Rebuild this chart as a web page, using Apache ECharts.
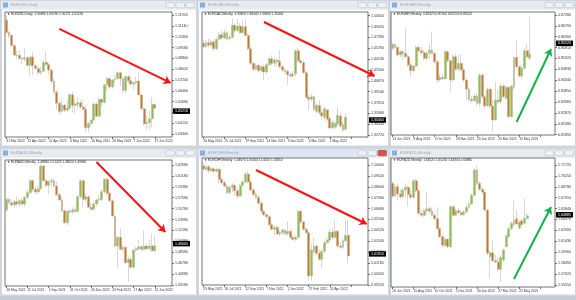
<!DOCTYPE html>
<html><head><meta charset="utf-8">
<script src="https://cdn.jsdelivr.net/npm/echarts@6/dist/echarts.min.js"></script>
<style>html,body{margin:0;padding:0;background:#d5dae1;}#c{width:576px;height:300px;}</style>
</head><body><div id="c"></div>
<script>
// ---------- DATA (candles are [open, close, low, high]) ----------
const tlCandles = [
[1.1157,1.1067,1.1067,1.1185],[1.1067,1.1046,1.1027,1.1076],[1.1046,1.0972,1.0966,1.1053],[1.0972,1.0904,1.0900,1.0988],
[1.0904,1.0902,1.0873,1.0937],[1.0902,1.0879,1.0870,1.0935],[1.0879,1.0876,1.0836,1.0893],[1.0876,1.0884,1.0858,1.0950],
[1.0884,1.0829,1.0821,1.0900],[1.0829,1.0890,1.0757,1.0896],[1.0890,1.0827,1.0758,1.0924],[1.0827,1.0808,1.0800,1.0840],
[1.0808,1.0779,1.0760,1.0815],[1.0779,1.0787,1.0757,1.0817],[1.0787,1.0852,1.0785,1.0867],[1.0852,1.0836,1.0825,1.0936],
[1.0836,1.0796,1.0764,1.0849],[1.0796,1.0715,1.0697,1.0808],[1.0715,1.0637,1.0635,1.0731],[1.0637,1.0557,1.0514,1.0654],
[1.0557,1.0497,1.0471,1.0571],[1.0497,1.0545,1.0490,1.0593],[1.0545,1.0507,1.0491,1.0553],[1.0507,1.0523,1.0492,1.0579],
[1.0523,1.0618,1.0505,1.0630],[1.0618,1.0541,1.0494,1.0642],[1.0541,1.0550,1.0484,1.0592],[1.0550,1.0561,1.0516,1.0599],
[1.0561,1.0530,1.0512,1.0578],[1.0530,1.0513,1.0502,1.0578],[1.0513,1.0380,1.0354,1.0537],[1.0380,1.0412,1.0350,1.0424],
[1.0412,1.0436,1.0389,1.0440],[1.0436,1.0552,1.0427,1.0561],[1.0552,1.0464,1.0458,1.0565],[1.0464,1.0585,1.0462,1.0605],
[1.0585,1.0562,1.0532,1.0597],[1.0562,1.0690,1.0556,1.0697],[1.0690,1.0735,1.0642,1.0749],[1.0735,1.0674,1.0660,1.0737],
[1.0674,1.0725,1.0661,1.0733],[1.0725,1.0733,1.0700,1.0765],[1.0733,1.0777,1.0730,1.0787],[1.0777,1.0733,1.0684,1.0780],
[1.0733,1.0648,1.0627,1.0738],[1.0648,1.0749,1.0627,1.0753],[1.0749,1.0719,1.0699,1.0764],[1.0719,1.0695,1.0680,1.0751],
[1.0695,1.0707,1.0653,1.0712],[1.0707,1.0716,1.0690,1.0748],[1.0716,1.0617,1.0612,1.0774],[1.0617,1.0518,1.0506,1.0630],
[1.0518,1.0409,1.0397,1.0524],[1.0409,1.0416,1.0365,1.0474],[1.0416,1.0446,1.0359,1.0505],[1.0446,1.0549,1.0382,1.0601],
[1.05480,1.05216,1.05171,1.05590]
];
const tlXLabels = ['31 Mar 2022','12 Apr 2022','22 Apr 2022','4 May 2022','16 May 2022','26 May 2022','7 Jun 2022','17 Jun 2022'];
const tlYTicks = [1.11920,1.11140,1.10360,1.09580,1.08800,1.08020,1.07240,1.06460,1.05680,1.04900,1.04120,1.03340];
const tlYRange = [1.0314, 1.1214];
const tlArrow = [[20, 1.1092], [62, 1.0703]];

const tmCandles = [
[1.4650,1.4600,1.4575,1.4690],[1.4600,1.4660,1.4585,1.4700],[1.4660,1.4620,1.4595,1.4720],[1.4620,1.4670,1.4600,1.4710],
[1.4670,1.4570,1.4540,1.4700],[1.4570,1.4710,1.4550,1.4740],[1.4710,1.4780,1.4690,1.4820],[1.4780,1.4730,1.4710,1.4840],
[1.4730,1.4810,1.4715,1.4860],[1.4810,1.4720,1.4700,1.4840],[1.4720,1.4740,1.4690,1.4780],[1.4740,1.4920,1.4720,1.5025],
[1.4920,1.4840,1.4810,1.4950],[1.4840,1.4910,1.4820,1.5020],[1.4910,1.4810,1.4790,1.4960],[1.4810,1.4900,1.4790,1.4990],
[1.4900,1.4770,1.4750,1.5010],[1.4770,1.4570,1.4550,1.4800],[1.4570,1.4350,1.4320,1.4600],[1.4350,1.4260,1.4230,1.4380],
[1.4260,1.4320,1.4240,1.4350],[1.4320,1.4240,1.4210,1.4350],[1.4240,1.4300,1.4220,1.4320],[1.4300,1.4220,1.4100,1.4330],
[1.4220,1.4330,1.4190,1.4360],[1.4330,1.4420,1.4310,1.4450],[1.4420,1.4350,1.4320,1.4470],[1.4350,1.4400,1.4300,1.4430],
[1.4400,1.4380,1.4310,1.4440],[1.4380,1.4300,1.4275,1.4550],[1.4300,1.4250,1.4220,1.4320],[1.4250,1.4230,1.4190,1.4280],
[1.4230,1.4180,1.4025,1.4260],[1.4180,1.4160,1.4140,1.4220],[1.4160,1.4190,1.4130,1.4230],[1.4190,1.4540,1.4160,1.4560],
[1.4540,1.4390,1.4360,1.4570],[1.4390,1.4360,1.4340,1.4420],[1.4360,1.4210,1.4190,1.4390],[1.4210,1.3840,1.3820,1.4240],
[1.3840,1.3810,1.3650,1.3880],[1.3810,1.3850,1.3780,1.3890],[1.3850,1.3660,1.3640,1.3870],[1.3630,1.3720,1.3600,1.3750],
[1.3720,1.3610,1.3580,1.3800],[1.3610,1.3560,1.3520,1.3670],[1.3540,1.3670,1.3510,1.3700],[1.3650,1.3510,1.3470,1.3680],
[1.3520,1.3380,1.3360,1.3550],[1.3380,1.3460,1.3360,1.3500],[1.3390,1.3450,1.3360,1.3490],[1.3440,1.3570,1.3410,1.3700],
[1.3560,1.3410,1.3380,1.3600],[1.3430,1.3350,1.3320,1.3480],[1.3360,1.3540,1.3340,1.3600]
];
const tmXLabels = ['30 May 2021','25 Jul 2021','19 Sep 2021','14 Nov 2021','9 Jan 2022','6 Mar 2022','1 May 2022'];
const tmYTicks = [1.50650,1.49020,1.47390,1.45760,1.44130,1.42500,1.40870,1.39240,1.37610,1.35980,1.34350,1.32720];
const tmYRange = [1.3245, 1.5120];
const tmArrow = [[23, 1.4970], [65, 1.4160]];

const trCandles = [
[0.85775,0.85955,0.85700,0.86030],[0.85955,0.85820,0.85730,0.86000],[0.85820,0.85475,0.85400,0.85880],[0.85475,0.85625,0.85370,0.85700],
[0.85625,0.85550,0.85250,0.85700],[0.85550,0.85400,0.85325,0.86675],[0.85400,0.85025,0.84950,0.85475],[0.85025,0.84770,0.84500,0.85100],
[0.84770,0.84980,0.84680,0.85025],[0.84980,0.85820,0.84920,0.85880],[0.85820,0.85670,0.85580,0.85880],[0.85670,0.85580,0.85475,0.85850],
[0.85580,0.85325,0.85250,0.85700],[0.85325,0.85550,0.85220,0.85625],[0.85550,0.85700,0.85280,0.86000],[0.85700,0.85550,0.85475,0.86525],
[0.85550,0.85175,0.85100,0.85625],[0.85175,0.84350,0.84200,0.85250],[0.84350,0.84470,0.84275,0.84650],[0.84470,0.84410,0.84350,0.84620],
[0.84410,0.85625,0.84350,0.85700],[0.85625,0.85220,0.85175,0.85700],[0.85220,0.84350,0.83825,0.85280],[0.84350,0.85400,0.84275,0.85475],
[0.85400,0.84830,0.84770,0.85550],[0.84830,0.85100,0.84770,0.85475],[0.85100,0.84800,0.84725,0.85475],[0.84800,0.84350,0.84275,0.84950],
[0.84350,0.83930,0.83450,0.84425],[0.83930,0.83480,0.83375,0.84020],[0.83480,0.83420,0.83300,0.83630],[0.83420,0.83630,0.83360,0.83720],
[0.83630,0.83300,0.83180,0.83750],[0.83300,0.84575,0.83120,0.84650],[0.84575,0.83600,0.83525,0.84650],[0.83600,0.83180,0.83075,0.83675],
[0.83180,0.83930,0.83150,0.84020],[0.83930,0.83180,0.83075,0.83975],[0.83180,0.82550,0.82025,0.83450],[0.82550,0.83450,0.82520,0.84275],
[0.83450,0.83375,0.83270,0.83900],[0.83375,0.84080,0.83270,0.84200],[0.84080,0.83600,0.83525,0.84200],[0.83525,0.84020,0.83450,0.84125],
[0.84020,0.82700,0.82625,0.84080],[0.82700,0.84080,0.82625,0.84125],[0.84020,0.85370,0.83930,0.85400],[0.85370,0.84950,0.84875,0.86150],
[0.84950,0.84530,0.84470,0.85025],[0.84530,0.84875,0.84425,0.85025],[0.84875,0.85670,0.84800,0.85775],[0.85670,0.85400,0.85325,0.86000],
[0.85325,0.85520,0.85250,0.87200]
];
const trXLabels = ['13 Jun 2021','8 Aug 2021','3 Oct 2021','28 Nov 2021','23 Jan 2022','20 Mar 2022','15 May 2022'];
const trYTicks = [0.87280,0.86790,0.86300,0.85810,0.85320,0.84830,0.84340,0.83850,0.83360,0.82870,0.82380,0.81890];
const trYRange = [0.81875, 0.87410];
const trArrow = [[47, 0.8246], [60, 0.85745]];

const blCandles = [
[1.5555,1.5731,1.5522,1.5764],[1.5731,1.5676,1.5654,1.57475],[1.5676,1.56375,1.5610,1.5731],[1.56375,1.56925,1.5599,1.5720],
[1.56925,1.5654,1.5621,1.5775],[1.5654,1.5709,1.5610,1.5742],[1.5709,1.5654,1.5621,1.5764],[1.5654,1.5764,1.5610,1.5786],
[1.5764,1.5841,1.5731,1.5885],[1.5841,1.6039,1.5819,1.6061],[1.6039,1.5896,1.58575,1.6061],[1.5896,1.5852,1.5819,1.5940],
[1.5852,1.5907,1.5819,1.5951],[1.5907,1.6281,1.5885,1.6314],[1.6281,1.6039,1.6017,1.62975],[1.6039,1.5962,1.5929,1.6061],
[1.5962,1.6017,1.5819,1.6061],[1.6017,1.6039,1.5940,1.60775],[1.6039,1.5951,1.5929,1.6072],[1.5951,1.5808,1.5786,1.60225],
[1.5808,1.5720,1.5698,1.5841],[1.5720,1.5544,1.5522,1.5775],[1.5544,1.5346,1.5324,1.5566],[1.5346,1.5533,1.5302,1.5555],
[1.5533,1.5522,1.5500,1.5577],[1.5522,1.5555,1.5500,1.5599],[1.5555,1.5533,1.5511,1.5599],[1.5533,1.5775,1.5511,1.58025],
[1.5775,1.6039,1.5742,1.6061],[1.6039,1.5731,1.5599,1.6061],[1.5731,1.5775,1.5676,1.5830],[1.5775,1.5599,1.5577,1.5797],
[1.5599,1.5566,1.5544,1.5665],[1.5566,1.5654,1.5544,1.56925],[1.5654,1.5720,1.5610,1.57475],[1.5720,1.5731,1.5665,1.5797],
[1.5731,1.58575,1.5698,1.5896],[1.58575,1.6061,1.5819,1.6083],[1.6061,1.5830,1.5797,1.6083],[1.5830,1.5709,1.5676,1.5852],
[1.5709,1.5456,1.5445,1.5731],[1.5456,1.4961,1.4939,1.54725],[1.4961,1.5104,1.45925,1.5126],[1.5104,1.4906,1.4884,1.52525],
[1.4906,1.4939,1.48675,1.49775],[1.4939,1.4686,1.4664,1.4961],[1.4686,1.4741,1.43725,1.4785],[1.4741,1.4609,1.4576,1.4774],
[1.4609,1.4895,1.4587,1.4917],[1.4895,1.4917,1.4862,1.4950],[1.4917,1.4950,1.4884,1.5060],[1.4950,1.4906,1.4873,1.4983],
[1.4906,1.4961,1.4884,1.5225],[1.4961,1.4917,1.4895,1.4994],[1.4917,1.4961,1.4895,1.5060],[1.4961,1.4884,1.48675,1.5170],
[1.4884,1.49665,1.4862,1.51425]
];
const blXLabels = ['16 May 2021','11 Jul 2021','5 Sep 2021','31 Oct 2021','26 Dec 2021','20 Feb 2022','17 Apr 2022','12 Jun 2022'];
const blYTicks = [1.62980,1.61180,1.59380,1.57580,1.55780,1.53980,1.52180,1.50380,1.48580,1.46780,1.44980,1.43180];
const blYRange = [1.4301, 1.6380];
const blArrow = [[34, 1.6347], [60, 1.5192]];

const bmCandles = [
[1.0991,1.0961,1.0949,1.1015],[1.0961,1.0985,1.0949,1.1000],[1.0985,1.0949,1.0925,1.1000],[1.0949,1.0967,1.0937,1.0985],
[1.0967,1.0943,1.0925,1.0979],[1.0943,1.0961,1.0931,1.0979],[1.0961,1.0871,1.0835,1.0973],[1.0871,1.0841,1.0823,1.0883],
[1.0841,1.0811,1.0799,1.0859],[1.0811,1.0751,1.0739,1.0829],[1.0751,1.0799,1.0739,1.0811],[1.0799,1.0817,1.0757,1.0835],
[1.0817,1.0769,1.0727,1.0835],[1.0769,1.0721,1.0697,1.0793],[1.0721,1.0817,1.0709,1.0829],[1.0817,1.0847,1.0805,1.0871],
[1.0847,1.0919,1.0835,1.0937],[1.0919,1.0847,1.0835,1.0949],[1.0847,1.0775,1.0763,1.0865],[1.0775,1.0733,1.0721,1.0793],
[1.0733,1.0709,1.0697,1.0757],[1.0709,1.0655,1.0643,1.0727],[1.0655,1.0583,1.0571,1.0673],[1.0583,1.0553,1.0541,1.0601],
[1.0553,1.0535,1.0517,1.0571],[1.0535,1.0463,1.0451,1.0547],[1.0463,1.0421,1.0409,1.0481],[1.0421,1.0439,1.0367,1.0457],
[1.0439,1.0379,1.0367,1.0451],[1.0379,1.0391,1.0361,1.0415],[1.0391,1.0415,1.0373,1.0427],[1.0415,1.0379,1.0367,1.0427],
[1.0379,1.0403,1.0367,1.0493],[1.0403,1.0349,1.0331,1.0421],[1.0349,1.0331,1.0319,1.0367],[1.0331,1.0349,1.0313,1.0367],
[1.0349,1.0583,1.0337,1.0595],[1.0583,1.0487,1.0469,1.0601],[1.0487,1.0421,1.0409,1.0499],[1.0421,1.0391,1.0379,1.0439],
[1.0391,1.0001,0.9959,1.0403],[1.0001,1.0235,0.9959,1.0295],[1.0217,1.0271,1.0199,1.0349],[1.0271,1.0205,1.0187,1.0283],
[1.0205,1.0151,1.0139,1.0235],[1.0151,1.0223,1.0067,1.0241],[1.0223,1.0301,1.0211,1.0319],[1.0301,1.0325,1.0283,1.0343],
[1.0325,1.0397,1.0313,1.0427],[1.0397,1.0349,1.0331,1.0427],[1.0349,1.0403,1.0337,1.0505],[1.0403,1.0271,1.0253,1.0415],
[1.0271,1.0259,1.0247,1.0301],[1.0259,1.0319,1.0247,1.0337],[1.0319,1.0367,1.0307,1.0505],[1.0367,1.0181,1.0115,1.0505]
];
const bmXLabels = ['23 May 2021','18 Jul 2021','12 Sep 2021','7 Nov 2021','2 Jan 2022','27 Feb 2022','24 Apr 2022'];
const bmYTicks = [1.10000,1.09020,1.08040,1.07060,1.06080,1.05100,1.04120,1.03140,1.02160,1.01180,1.00200,0.99220];
const bmYRange = [0.9920, 1.1063];
const bmArrow = [[20, 1.0955], [62, 1.0469]];

const brCandles = [
[1.6925,1.6754,1.67225,1.69475],[1.6754,1.6880,1.6736,1.6916],[1.6880,1.6781,1.6700,1.6925],[1.6781,1.6745,1.6718,1.6844],
[1.6745,1.6835,1.6727,1.6871],[1.6835,1.6871,1.6736,1.6925],[1.6871,1.6772,1.6610,1.6898],[1.6772,1.6736,1.6709,1.6844],
[1.6736,1.6961,1.6718,1.6979],[1.6961,1.6826,1.6808,1.6988],[1.6826,1.6520,1.6493,1.6853],[1.6520,1.6493,1.6475,1.6565],
[1.6493,1.6556,1.6466,1.6583],[1.6556,1.6583,1.6529,1.68125],[1.6583,1.6547,1.6520,1.6610],[1.6547,1.6493,1.6475,1.6601],
[1.6493,1.6448,1.6421,1.6529],[1.6448,1.6313,1.6295,1.6601],[1.6313,1.6205,1.6187,1.6340],[1.6205,1.6088,1.6070,1.6241],
[1.6088,1.6169,1.6061,1.6196],[1.6169,1.6070,1.6052,1.6187],[1.6070,1.6610,1.6043,1.66325],[1.6610,1.6493,1.6475,1.6628],
[1.6493,1.6556,1.6484,1.6583],[1.6556,1.6529,1.6502,1.6583],[1.6529,1.6502,1.6484,1.6565],[1.6502,1.6538,1.6484,1.6565],
[1.6538,1.6601,1.6520,1.6646],[1.6601,1.6646,1.6583,1.6682],[1.6646,1.6763,1.6628,1.6790],[1.6763,1.7105,1.6745,1.71275],
[1.7105,1.6925,1.6907,1.71725],[1.6925,1.6844,1.6826,1.6952],[1.6844,1.6808,1.6781,1.6889],[1.6808,1.6565,1.65425,1.6835],
[1.6565,1.5980,1.5953,1.6583],[1.5935,1.5989,1.56425,1.6025],[1.5989,1.5881,1.5863,1.6160],[1.5881,1.5863,1.5845,1.5962],
[1.5863,1.5764,1.5746,1.5935],[1.5764,1.5926,1.55975,1.5953],[1.5890,1.6025,1.5863,1.6043],[1.6070,1.6214,1.6061,1.6241],
[1.6205,1.6313,1.6187,1.6340],[1.6313,1.6385,1.6295,1.6412],[1.6367,1.6430,1.6340,1.6700],[1.6448,1.6376,1.6358,1.6565],
[1.6322,1.6403,1.6304,1.6430],[1.6421,1.6367,1.6349,1.6448],[1.6385,1.64525,1.6367,1.67225],[1.64525,1.64885,1.6430,1.6520]
];
const brXLabels = ['20 Jun 2021','15 Aug 2021','10 Oct 2021','5 Dec 2021','30 Jan 2022','27 Mar 2022','22 May 2022'];
const brYTicks = [1.71720,1.70250,1.68780,1.67310,1.65840,1.64370,1.62900,1.61430,1.59960,1.58490,1.57020,1.55550];
const brYRange = [1.55255, 1.7267];
const brArrow = [[46, 1.5634], [60, 1.6606]];

// ---------- LAYOUT / STYLE ----------
const FONT = 'Liberation Sans, DejaVu Sans, sans-serif';
const RED = '#ff1010', GREEN = '#12b24a';
const panels = [
 {title:'EURUSD,Daily',  c:tlCandles, xl:tlXLabels, yt:tlYTicks, yr:tlYRange, ar:tlArrow, ac:RED,   slots:63, win:[0,0,197,147],   grid:[5,12,167,125]},
 {title:'EURCAD,Weekly', c:tmCandles, xl:tmXLabels, yt:tmYTicks, yr:tmYRange, ar:tmArrow, ac:RED,   slots:63, win:[197,0,192,147], grid:[202,12,166,125]},
 {title:'EURGBP,Weekly', c:trCandles, xl:trXLabels, yt:trYTicks, yr:trYRange, ar:trArrow, ac:GREEN, slots:62, win:[389,0,187,147], grid:[391,12,164,123]},
 {title:'EURAUD,Weekly', c:blCandles, xl:blXLabels, yt:blYTicks, yr:blYRange, ar:blArrow, ac:RED,   slots:63, win:[0,148,197,148], grid:[5,160,167,126]},
 {title:'EURCHF,Weekly', c:bmCandles, xl:bmXLabels, yt:bmYTicks, yr:bmYRange, ar:bmArrow, ac:RED,   slots:63, win:[197,148,192,148], grid:[202,158,166,127], active:true},
 {title:'EURNZD,Weekly', c:brCandles, xl:brXLabels, yt:brYTicks, yr:brYRange, ar:brArrow, ac:GREEN, slots:62, win:[389,148,187,148], grid:[391,158,164,129]}
];

const grids=[], xAxes=[], yAxes=[], series=[], graphics=[];
panels.forEach((p,k)=>{
  const [gx,gy,gw,gh]=p.grid, [wx,wy,ww,wh]=p.win;
  grids.push({left:gx, top:gy, width:gw, height:gh, show:true, backgroundColor:'#ffffff', borderColor:'#505050', borderWidth:0.8, z:0});
  const cats=[]; for(let i=0;i<p.slots;i++){ cats.push(i%8===0 && p.xl[i/8] ? p.xl[i/8] : ''); }
  xAxes.push({type:'category', gridIndex:k, data:cats, boundaryGap:true,
    axisLine:{show:false}, splitLine:{show:false},
    axisTick:{show:true, interval:7, alignWithLabel:true, length:2, lineStyle:{color:'#505050', width:0.8}},
    axisLabel:{interval:7, fontSize:3.3, color:'#333', margin:2.5, align:'left', fontFamily:FONT}});
  yAxes.push({type:'value', gridIndex:k, position:'right', min:p.yr[0], max:p.yr[1],
    splitLine:{show:false}, axisLine:{show:false},
    axisTick:{show:true, length:2, customValues:p.yt, lineStyle:{color:'#505050', width:0.8}},
    axisLabel:{customValues:p.yt, fontSize:3.6, color:'#333', margin:3, fontFamily:FONT, formatter:v=>v.toFixed(5)}});
  const last=p.c[p.c.length-1];
  series.push({type:'candlestick', xAxisIndex:k, yAxisIndex:k, data:p.c, barWidth:2.4,
    itemStyle:{color:'#8cc63f', color0:'#d0761a', borderColor:'#b0b0b0', borderColor0:'#b0b0b0', borderWidth:0.5},
    markLine:{silent:true, symbol:['none','none'], animation:false,
      data:[{yAxis:last[1], lineStyle:{color:'rgba(0,0,0,0)', width:0},
        label:{show:true, position:'end', distance:1, formatter:()=>last[1].toFixed(5), backgroundColor:'#000', color:'#fff', fontSize:3.6, padding:[1,2,0.5,2], fontFamily:FONT}}]}});
  series.push({type:'lines', coordinateSystem:'cartesian2d', xAxisIndex:k, yAxisIndex:k, clip:false, silent:true, z:5,
    symbol:['none','arrow'], symbolSize:[0,7], lineStyle:{color:p.ac, width:2, opacity:1, curveness:0},
    data:[{coords:p.ar}]});
  // window chrome
  graphics.push({type:'rect', z:-10, shape:{x:wx,y:wy,width:ww,height:wh}, style:{fill:'#cfd5dd'}});
  graphics.push({type:'rect', z:-9, shape:{x:wx+1,y:wy+1,width:ww-2,height:8.5}, style:{fill:p.active?'#dde6f2':'#e7ebf0'}});
  graphics.push({type:'rect', z:-9, shape:{x:wx+2,y:wy+9.5,width:ww-3,height:wh-11}, style:{fill:'#ffffff'}});
  graphics.push({type:'rect', z:-8, shape:{x:wx+3,y:wy+2.5,width:5,height:5}, style:{fill:'#86aede'}});
  graphics.push({type:'text', z:-8, x:wx+11, y:wy+5.3, style:{text:p.title, fontSize:4, fill:'#9ba5b1', verticalAlign:'middle', fontFamily:FONT}});
  for(let b=0;b<3;b++){
    const red = p.active && b===2;
    graphics.push({type:'rect', z:-8, shape:{x:wx+ww-31+b*10,y:wy+2.3,width:8.5,height:5.5,r:1},
      style:{fill:red?'#d9534f':'#eef1f5', stroke:red?'#b03a36':'#b5bdc8', lineWidth:0.6}});
  }
  const hdr='\u25BC '+p.title+'  '+[last[0],last[3],last[2],last[1]].map(v=>v.toFixed(5)).join(' ');
  graphics.push({type:'text', z:10, x:gx+2, y:gy+2.6, style:{text:hdr, fontSize:3.2, fill:'#222', verticalAlign:'middle', fontFamily:FONT}});
});
graphics.push({type:'rect', z:-10, shape:{x:0,y:296,width:576,height:4}, style:{fill:'#c3ccd7'}});

const chart = echarts.init(document.getElementById('c'), null, {renderer:'canvas'});
chart.setOption({animation:false, backgroundColor:'#cfd5dd', grid:grids, xAxis:xAxes, yAxis:yAxes, series:series, graphic:graphics});
</script></body></html>
